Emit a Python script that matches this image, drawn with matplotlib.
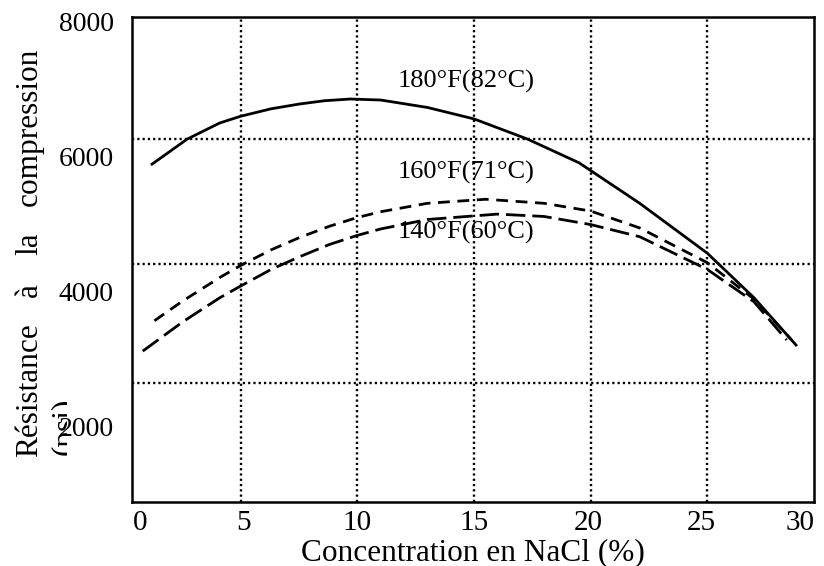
import numpy as np
import matplotlib
matplotlib.use("Agg")
import matplotlib.pyplot as plt
from matplotlib.transforms import Bbox

plt.rcParams["font.family"] = ["Liberation Serif", "DejaVu Serif"]
plt.rcParams["lines.scale_dashes"] = False

# NaCl concentration (%) vs compressive strength (psi)
x_180 = [1.2, 2.7, 4.1, 5.0, 6.3, 7.5, 8.6, 9.7, 11.0, 13.0, 15.0, 17.3, 19.5, 22.1, 25.0, 27.0, 28.8]
y_180 = [5880, 6250, 6490, 6590, 6700, 6770, 6820, 6845, 6830, 6720, 6550, 6250, 5900, 5300, 4560, 3900, 3200]

x_160 = [1.3, 2.5, 4.1, 5.0, 6.3, 7.5, 8.8, 10.0, 11.0, 13.0, 15.5, 18.0, 20.0, 22.1, 25.0, 27.0, 28.6]
y_160 = [3560, 3850, 4200, 4380, 4610, 4790, 4960, 5090, 5175, 5300, 5360, 5300, 5185, 4935, 4420, 3880, 3280]

x_140 = [0.8, 2.5, 4.1, 5.0, 6.3, 7.5, 8.8, 10.0, 11.0, 13.0, 16.0, 18.0, 20.0, 22.1, 25.0, 27.0, 28.4]
y_140 = [3110, 3540, 3900, 4075, 4320, 4505, 4690, 4825, 4920, 5060, 5140, 5105, 4985, 4805, 4320, 3840, 3275]

curve_labels = ["180°F(82°C)", "160°F(71°C)", "140°F(60°C)"]
label_y = [7100, 5750, 4875]
label_x = 14.66

x_grid = [5, 10, 15, 20, 25]
y_grid = [6250, 4400, 2640]

x_ticklabels = ["0", "5", "10", "15", "20", "25", "30"]
x_tickpos = [0.69, 5.1, 10.0, 15.0, 19.9, 24.75, 28.97]
y_ticks = [2000, 4000, 6000, 8000]

W, H = 824, 566
fig = plt.figure(figsize=(W / 100, H / 100), dpi=100)
ax = fig.add_axes([132 / W, 1 - 502 / H, (814 - 132) / W, (502 - 17) / H])

dot = (0, (1.6, 2.2))
for xv in x_grid:
    ax.axvline(xv, color="black", lw=1.7, linestyle=dot, zorder=1)
for yv in y_grid:
    ax.axhline(yv, color="black", lw=1.7, linestyle=dot, zorder=1)

ax.plot(x_180, y_180, color="black", lw=2.0, solid_joinstyle="round", zorder=3)
ax.plot(x_160, y_160, color="black", lw=2.0, dashes=(8.5, 5.5), zorder=3)
ax.plot(x_140, y_140, color="black", lw=2.0, dashes=(14, 5), zorder=3)

for txt, yv in zip(curve_labels, label_y):
    ax.text(label_x, yv, txt, fontsize=19, ha="center", va="center", zorder=4)

ax.set_xlim(0.34, 29.57)
ax.set_ylim(875, 8060)
ax.set_xticks(x_tickpos)
ax.set_xticklabels(x_ticklabels)
ax.set_yticks(y_ticks)
ax.tick_params(axis="both", length=0, colors="black")
ax.tick_params(axis="x", labelsize=21, pad=6)
ax.tick_params(axis="y", labelsize=20, pad=13)
for sp in ax.spines.values():
    sp.set_linewidth(1.8)
    sp.set_color("black")

ax.set_xlabel("Concentration en NaCl (%)", fontsize=22.5, labelpad=1)

# y label: justified words, drawn one by one
for word, yc in [("Résistance", 390), ("à", 290), ("la", 244), ("compression", 127)]:
    fig.text(37 / W, 1 - yc / H, word, fontsize=22.5, rotation=90,
             rotation_mode="anchor", ha="center", va="baseline")

# second line of the label, cut off behind the tick labels as in the source
psi = fig.text(73 / W, 1 - 426 / H, "(psi)", fontsize=22.5, rotation=90,
               rotation_mode="anchor", ha="center", va="baseline")
psi.set_clip_box(Bbox([[0, 0], [67, H]]))
psi.set_clip_on(True)

fig.savefig("out.png", dpi=100)
